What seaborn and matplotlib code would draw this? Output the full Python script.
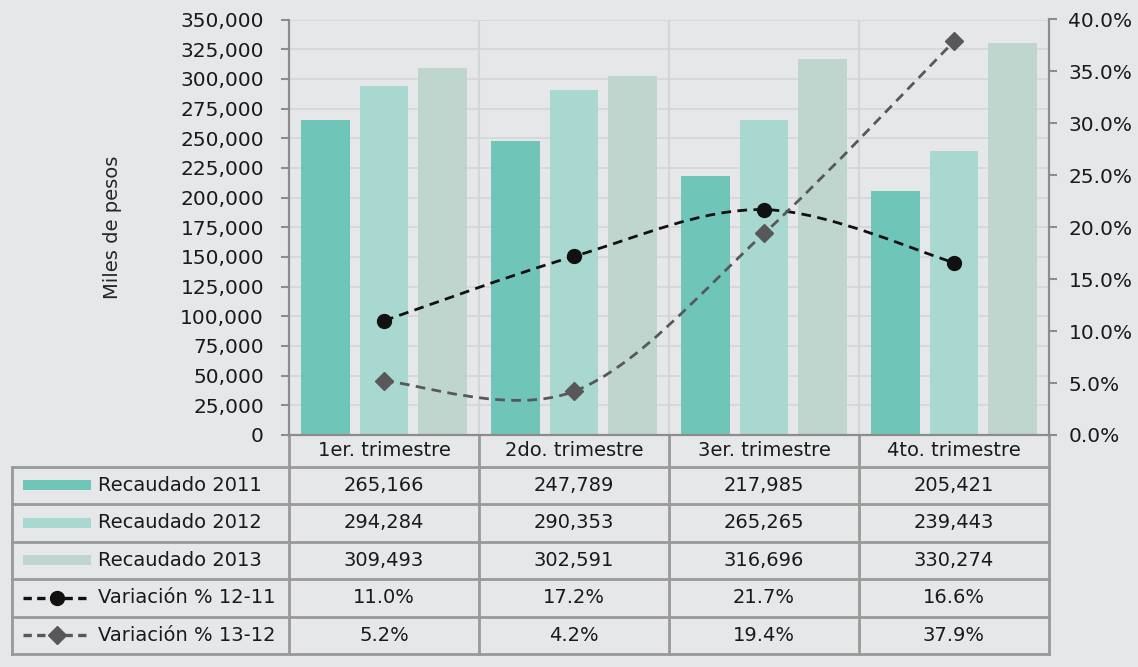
import matplotlib
matplotlib.use("Agg")
import matplotlib.pyplot as plt
from matplotlib.path import Path
from matplotlib.patches import PathPatch, Rectangle
from matplotlib.ticker import FuncFormatter, MultipleLocator
import numpy as np
import pandas as pd
import seaborn as sns

# data
trimestres = ["1er. trimestre", "2do. trimestre", "3er. trimestre", "4to. trimestre"]
recaudado_2011 = [265166, 247789, 217985, 205421]
recaudado_2012 = [294284, 290353, 265265, 239443]
recaudado_2013 = [309493, 302591, 316696, 330274]
var_12_11 = [11.0, 17.2, 21.7, 16.6]
var_13_12 = [5.2, 4.2, 19.4, 37.9]

bar_series = ["Recaudado 2011", "Recaudado 2012", "Recaudado 2013"]
bar_colors = ["#6fc5b8", "#a8d8d0", "#bfd6cf"]
line_series = ["Variación % 12-11", "Variación % 13-12"]
line_colors = ["#111111", "#58585a"]
line_markers = ["o", "D"]

BG = "#e6e7e9"
GRID = "#d4d5d7"
SPINE = "#8c8c8c"
TABLE = "#999999"

df = pd.DataFrame({
    "trimestre": trimestres * 3,
    "serie": [s for s in bar_series for _ in trimestres],
    "valor": recaudado_2011 + recaudado_2012 + recaudado_2013,
})

sns.set_theme(style="white")
plt.rcParams["font.family"] = ["DejaVu Sans"]
plt.rcParams["text.color"] = "#1a1a1a"

W, H = 1138, 667
fig = plt.figure(figsize=(W / 100, H / 100), dpi=100, facecolor=BG)
L, R, T, B = 289, 1049, 19.5, 435
ax = fig.add_axes([L / W, 1 - B / H, (R - L) / W, (B - T) / H])
ax.set_facecolor(BG)

sns.barplot(data=df, x="trimestre", y="valor", hue="serie", palette=bar_colors,
            width=0.93, gap=0.17, saturation=1, legend=False, ax=ax, zorder=2,
            linewidth=0, edgecolor="none")

ax.set_ylim(0, 350000)
ax.set_xlim(-0.5, 3.5)
ax.yaxis.set_major_locator(MultipleLocator(25000))
ax.yaxis.set_major_formatter(FuncFormatter(lambda v, p: f"{int(v):,}"))
ax.grid(axis="y", color=GRID, lw=1.2, zorder=0)
for xv in [0.5, 1.5, 2.5]:
    ax.axvline(xv, color=GRID, lw=1.5, zorder=0)
ax.set_axisbelow(True)
ax.set_xticks([])
ax.set_xlabel("")
ax.set_ylabel("Miles de pesos", fontsize=14)
ax.yaxis.set_label_coords((122 - L) / (R - L), 0.5)
ax.tick_params(axis="y", which="both", left=True, length=6, width=1.5, color=SPINE,
               pad=12, labelsize=14.5, labelcolor="#1a1a1a")
for side in ["top", "right"]:
    ax.spines[side].set_visible(False)
for side in ["left", "bottom"]:
    ax.spines[side].set_color(SPINE)
    ax.spines[side].set_linewidth(1.6)

ax2 = ax.twinx()
ax2.set_ylim(0, 40)
ax2.yaxis.set_major_locator(MultipleLocator(5))
ax2.yaxis.set_major_formatter(FuncFormatter(lambda v, p: f"{v:.1f}%"))
ax2.tick_params(axis="y", right=True, length=6, width=1.5, color=SPINE, pad=8,
                labelsize=14.5, labelcolor="#1a1a1a")
for side in ["top", "left", "bottom"]:
    ax2.spines[side].set_visible(False)
ax2.spines["right"].set_color(SPINE)
ax2.spines["right"].set_linewidth(1.6)


def smooth_path(xs, ys):
    pts = np.column_stack([xs, ys]).astype(float)
    n = len(pts)
    verts = [pts[0]]
    codes = [Path.MOVETO]
    for i in range(n - 1):
        p_prev = pts[max(i - 1, 0)]
        p0, p1 = pts[i], pts[i + 1]
        p_next = pts[min(i + 2, n - 1)]
        verts += [p0 + (p1 - p_prev) / 6, p1 - (p_next - p0) / 6, p1]
        codes += [Path.CURVE4] * 3
    return Path(verts, codes)


xs = np.arange(len(trimestres))
for vals, col, mk in zip([var_12_11, var_13_12], line_colors, line_markers):
    patch = PathPatch(smooth_path(xs, vals), facecolor="none", edgecolor=col, lw=2,
                      linestyle=(0, (3.5, 2.3)), zorder=3)
    ax2.add_patch(patch)
    ax2.plot(xs, vals, linestyle="none", marker=mk, color=col,
             markersize=10 if mk == "o" else 9.5, zorder=4)

# data table below the plot (axes coordinates of ax)
hgt = B - T
def ay(ypix):
    return (B - ypix) / hgt
def axp(xpix):
    return (xpix - L) / (R - L)

x_left = axp(12)
header_bot = ay(466.7)
row_h = 37.5 / hgt
rows_y = [header_bot - i * row_h for i in range(6)]
col_x = [0, 0.25, 0.5, 0.75, 1.0]
kw = dict(transform=ax.transAxes, clip_on=False, color=TABLE, lw=2, solid_capstyle="projecting")

for yv in rows_y:
    ax.plot([x_left, 1], [yv, yv], **kw)
ax.plot([x_left, x_left], [header_bot, rows_y[-1]], **kw)
for xv in col_x:
    ax.plot([xv, xv], [0, rows_y[-1]], **kw)

for i, lab in enumerate(trimestres):
    ax.text((i + 0.5) / 4, header_bot / 2, lab, transform=ax.transAxes,
            ha="center", va="center", fontsize=14)

table_vals = [
    [f"{v:,}" for v in recaudado_2011],
    [f"{v:,}" for v in recaudado_2012],
    [f"{v:,}" for v in recaudado_2013],
    [f"{v:.1f}%" for v in var_12_11],
    [f"{v:.1f}%" for v in var_13_12],
]
labels = bar_series + line_series
for r in range(5):
    yc = rows_y[r] - row_h / 2
    for c in range(4):
        ax.text((c + 0.5) / 4, yc, table_vals[r][c], transform=ax.transAxes,
                ha="center", va="center", fontsize=14)
    ax.text(axp(98), yc, labels[r], transform=ax.transAxes, ha="left", va="center",
            fontsize=14)
    k0, k1 = axp(23), axp(91)
    if r < 3:
        ax.add_patch(Rectangle((k0, yc - 5 / hgt), k1 - k0, 10 / hgt, transform=ax.transAxes,
                               clip_on=False, facecolor=bar_colors[r], edgecolor="none"))
    else:
        col = line_colors[r - 3]
        mk = line_markers[r - 3]
        ax.plot([k0, k1], [yc, yc], transform=ax.transAxes, clip_on=False, color=col,
                lw=2.4, linestyle=(0, (2.5, 1.6)))
        ax.plot([(k0 + k1) / 2], [yc], transform=ax.transAxes, clip_on=False, color=col,
                marker=mk, markersize=10 if mk == "o" else 9.5, linestyle="none")

fig.savefig("out.png", dpi=100, facecolor=BG)
